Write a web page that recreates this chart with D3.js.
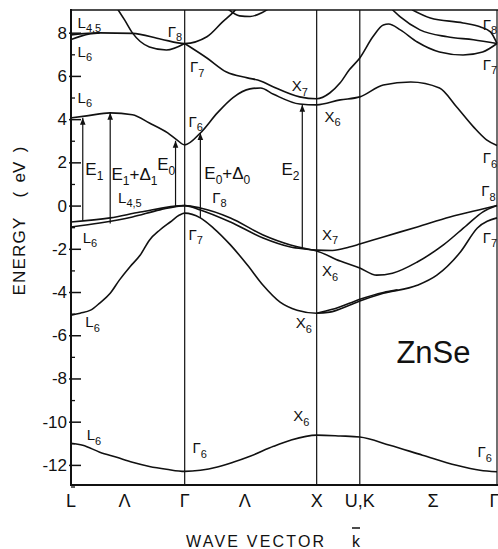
<!DOCTYPE html>
<html>
<head>
<meta charset="utf-8">
<script src="https://cdn.jsdelivr.net/npm/d3@7"></script>
<style>
  body { margin: 0; background: #fff; }
  text { font-family: "Liberation Sans", Arial, sans-serif; fill: #111; }
</style>
</head>
<body>
<svg id="chart" width="498" height="549"></svg>
<script>
// symmetry points along the k path (L - Γ - X - U,K - Γ)
var symK = [0, 0.87, 1.88, 2.21, 3.26];
var pathNames = ["L", "Λ", "Γ", "Λ", "X", "U,K", "Σ", "Γ"];
var pathNameK = [0, 0.41, 0.87, 1.33, 1.88, 2.21, 2.77, 3.24];

var majorTicks = [-12, -10, -8, -6, -4, -2, 0, 2, 4, 6, 8];
var minorTicks = [-13, -11, -9, -7, -5, -3, -1, 1, 3, 5, 7];

// bands, [k, energy eV]
var bandS = [[0,-11.0],[0.09,-11.09],[0.22,-11.41],[0.35,-11.65],[0.47,-11.88],[0.6,-12.07],[0.73,-12.2],[0.87,-12.3],
  [0.99,-12.25],[1.12,-12.1],[1.24,-11.88],[1.37,-11.6],[1.55,-11.14],[1.68,-10.86],[1.88,-10.62],[2.06,-10.66],[2.21,-10.71],
  [2.44,-11.09],[2.69,-11.55],[2.95,-12.02],[3.13,-12.25],[3.26,-12.32]];
var bandSO = [[0,-5.07],[0.07,-4.98],[0.15,-4.84],[0.22,-4.51],[0.3,-4.06],[0.37,-3.45],[0.45,-2.84],[0.53,-2.29],[0.6,-1.6],
  [0.68,-1.13],[0.76,-0.76],[0.83,-0.44],[0.87,-0.35],[0.99,-0.57],[1.09,-1.04],[1.22,-1.82],[1.35,-2.75],[1.47,-3.69],
  [1.6,-4.47],[1.73,-4.84],[1.88,-4.98],[1.98,-4.93],[2.13,-4.61],[2.21,-4.42],[2.39,-4.06],[2.65,-3.69],[2.8,-3.22],
  [2.98,-2.15],[3.11,-1.04],[3.26,-0.57]];
var bandSOb = [[1.88,-4.98],[2.0,-4.8],[2.13,-4.52],[2.21,-4.34],[2.39,-4.02],[2.5,-3.9]];
var bandLH = [[0,-0.99],[0.22,-0.81],[0.47,-0.53],[0.68,-0.2],[0.87,0],[0.99,-0.2],[1.22,-0.76],[1.47,-1.5],[1.68,-1.92],
  [1.88,-2.1],[2.06,-2.57],[2.21,-2.89],[2.34,-3.22],[2.46,-3.13],[2.65,-2.61],[2.85,-1.82],[3.03,-0.9],[3.15,-0.3],[3.26,0]];
var bandHH = [[0,-0.76],[0.3,-0.57],[0.53,-0.3],[0.87,0],[0.99,-0.11],[1.22,-0.57],[1.47,-1.36],[1.68,-1.82],[1.88,-2.06],
  [2.0,-2.08],[2.13,-1.92],[2.21,-1.78],[2.39,-1.45],[2.65,-0.99],[2.9,-0.53],[3.15,-0.16],[3.26,0]];
var bandC1 = [[0,4.06],[0.12,4.15],[0.3,4.29],[0.47,4.2],[0.6,3.82],[0.74,3.36],[0.81,3.04],[0.87,2.81],[0.99,3.36],
  [1.12,4.29],[1.24,5.0],[1.37,5.4],[1.45,5.44],[1.55,5.15],[1.75,4.7],[1.88,4.66],[2.06,4.89],[2.21,5.03],[2.39,5.58],
  [2.6,5.72],[2.82,5.44],[2.95,4.57],[3.08,3.64],[3.18,3.04],[3.26,2.78]];
var bandC2 = [[0.87,7.5],[1.04,6.83],[1.19,6.18],[1.35,5.91],[1.45,5.77],[1.55,5.49],[1.75,5.03],[1.88,4.94],[1.98,5.21],
  [2.06,5.68],[2.13,6.28],[2.21,6.83],[2.31,7.81],[2.39,8.36],[2.43,8.4],[2.52,8.13],[2.65,7.57],[2.82,7.11],[3.0,6.97],
  [3.15,7.11],[3.26,7.5]];
var bandC3 = [[0,7.9],[0.22,7.99],[0.47,7.97],[0.69,7.7],[0.87,7.5],[1.04,7.81],[1.16,8.5],[1.25,9.0],[1.32,9.5]];
var bandC3b = [[0,7.68],[0.07,7.83],[0.15,7.95],[0.22,7.99]];
var bandC4 = [[0.36,9.06],[0.41,8.59],[0.47,7.99],[0.6,7.34],[0.73,7.2],[0.87,7.5]];
var bandC5 = [[1.2,9.1],[1.29,8.78],[1.37,8.75],[1.46,8.92],[1.51,9.1]];
var bandC6 = [[2.46,9.06],[2.52,8.73],[2.67,8.13],[2.88,7.81],[3.08,7.67],[3.26,7.5]];
var bandC7 = [[2.61,9.06],[2.75,8.68],[3.0,8.45],[3.13,8.27],[3.21,8.04],[3.26,7.5]];
var bands = [bandS, bandSO, bandSOb, bandLH, bandHH, bandC1, bandC2, bandC3, bandC3b, bandC4, bandC5, bandC6, bandC7];

// optical transitions
var transNames = ["E_1", "E_1+Δ_1", "E_0", "E_0+Δ_0", "E_2"];
var transK = [0.09, 0.30, 0.80, 0.99, 1.77];
var transFrom = [-0.69, -0.83, -0.04, -0.57, -1.96];
var transTo = [4.06, 4.29, 3.0, 3.36, 4.66];
var transLabelK = [0.11, 0.31, 0.66, 1.02, 1.61];
var transLabelE = [1.42, 1.19, 1.65, 1.24, 1.42];

// band labels [text, k, E]
var bandLabels = [
  ["L_{4,5}",0.05,8.22], ["L_6",0.05,6.88], ["L_6",0.05,4.75],
  ["Γ_8",0.74,7.81], ["Γ_7",0.91,6.18], ["Γ_6",0.9,3.64],
  ["X_7",1.69,5.3], ["X_6",1.94,3.87],
  ["Γ_8",3.15,8.13], ["Γ_7",3.15,6.28], ["Γ_6",3.15,1.97],
  ["L_{4,5}",0.36,0.12], ["Γ_8",1.08,0.14], ["Γ_8",3.14,0.44],
  ["L_6",0.09,-1.73], ["Γ_7",0.9,-1.59], ["X_7",1.92,-1.59], ["Γ_7",3.15,-1.73],
  ["X_6",1.92,-3.26], ["L_6",0.11,-5.63], ["X_6",1.72,-5.67],
  ["X_6",1.7,-9.97], ["L_6",0.12,-10.85], ["Γ_6",0.93,-11.46], ["Γ_6",3.11,-11.64]
];

var svg = d3.select("#chart");
var pL = 71, pR = 497, pT = 10, pB = 485;

var x = d3.scaleLinear().domain([0, 3.26]).range([pL, pR]);
var y = d3.scaleLinear().domain([-12.93, 9.05]).range([pB, pT]);

var defs = svg.append("defs");
defs.append("clipPath").attr("id", "plot")
  .append("rect").attr("x", pL).attr("y", pT).attr("width", pR - pL + 2).attr("height", pB - pT);
defs.append("marker").attr("id", "head")
  .attr("viewBox", "0 0 10 10").attr("refX", 10).attr("refY", 5)
  .attr("markerWidth", 7).attr("markerHeight", 7).attr("markerUnits", "userSpaceOnUse")
  .attr("orient", "auto")
  .append("path").attr("d", "M0,1 L10,5 L0,9 Z").attr("fill", "#111");

// writes text with _x or _{xx} subscripts
function rich(t, str, fs, sfs) {
  var re = /_(\{([^}]*)\}|(.))/g, last = 0, m, parts = [];
  while ((m = re.exec(str))) {
    if (m.index > last) parts.push([str.slice(last, m.index), false]);
    parts.push([m[2] || m[3], true]);
    last = re.lastIndex;
  }
  if (last < str.length) parts.push([str.slice(last), false]);
  var inSub = false;
  parts.forEach(function(p) {
    var dy = 0;
    if (p[1] && !inSub) dy = fs * 0.3;
    if (!p[1] && inSub) dy = -fs * 0.3;
    inSub = p[1];
    t.append("tspan").attr("dy", dy).attr("font-size", p[1] ? sfs : fs).text(p[0]);
  });
}

// vertical symmetry lines
svg.selectAll(".sym").data(symK.slice(1)).enter().append("line")
  .attr("x1", function(d) { return x(d); }).attr("x2", function(d) { return x(d); })
  .attr("y1", pT).attr("y2", pB)
  .attr("stroke", "#111").attr("stroke-width", 1.2);

// frame
svg.append("line").attr("x1", pL).attr("x2", pL).attr("y1", pT - 1).attr("y2", pB + 1)
  .attr("stroke", "#111").attr("stroke-width", 2);
svg.append("line").attr("x1", pL).attr("x2", 498).attr("y1", pB).attr("y2", pB)
  .attr("stroke", "#111").attr("stroke-width", 2.2);
svg.append("line").attr("x1", pL).attr("x2", 498).attr("y1", pT).attr("y2", pT)
  .attr("stroke", "#111").attr("stroke-width", 1.6);

// y axis ticks
var yAxis = d3.axisLeft(y).tickValues(majorTicks).tickSize(-8).tickSizeOuter(0).tickPadding(6)
  .tickFormat(function(d) { return String(d); });
var ga = svg.append("g").attr("transform", "translate(" + (pL + 2) + ",0)").call(yAxis);
ga.select(".domain").remove();
ga.selectAll("line").attr("stroke", "#111").attr("stroke-width", 1.5).attr("x1", -4);
ga.selectAll("text").attr("font-size", 17).attr("font-family", "Liberation Sans, Arial, sans-serif").attr("fill", "#111");

var gm = svg.append("g").attr("transform", "translate(" + pL + ",0)")
  .call(d3.axisLeft(y).tickValues(minorTicks).tickSize(-4).tickFormat(""));
gm.select(".domain").remove();
gm.selectAll("line").attr("stroke", "#111").attr("stroke-width", 1.3);

// bands
var line = d3.line().x(function(d) { return x(d[0]); }).y(function(d) { return y(d[1]); }).curve(d3.curveMonotoneX);
svg.append("g").attr("clip-path", "url(#plot)")
  .selectAll("path").data(bands).enter().append("path")
  .attr("d", line).attr("fill", "none").attr("stroke", "#111").attr("stroke-width", 1.6);

// transitions
transK.forEach(function(k, i) {
  svg.append("line")
    .attr("x1", x(k)).attr("x2", x(k))
    .attr("y1", y(transFrom[i])).attr("y2", y(transTo[i]))
    .attr("stroke", "#111").attr("stroke-width", 1.2)
    .attr("marker-end", "url(#head)");
  var t = svg.append("text").attr("x", x(transLabelK[i])).attr("y", y(transLabelE[i]));
  rich(t, transNames[i], 17, 12);
});

// band labels
bandLabels.forEach(function(b) {
  var t = svg.append("text").attr("x", x(b[1])).attr("y", y(b[2]));
  rich(t, b[0], 15, 11);
});

// path labels
svg.selectAll(".pn").data(pathNames).enter().append("text")
  .attr("x", function(d, i) { return x(pathNameK[i]); })
  .attr("y", 507)
  .attr("text-anchor", "middle").attr("font-size", 18)
  .text(function(d) { return d; });

// axis titles
svg.append("text").attr("x", 186).attr("y", 547).attr("font-size", 16).attr("letter-spacing", 2.2)
  .text("WAVE VECTOR");
svg.append("text").attr("x", 352).attr("y", 547).attr("font-size", 16).text("k");
svg.append("line").attr("x1", 352).attr("x2", 360).attr("y1", 528).attr("y2", 528)
  .attr("stroke", "#111").attr("stroke-width", 1.5);

svg.append("text").attr("transform", "translate(25,256) rotate(-90)")
  .attr("text-anchor", "middle").attr("font-size", 17).attr("letter-spacing", 1.2)
  .text("ENERGY");
svg.append("text").attr("transform", "translate(25,172) rotate(-90)")
  .attr("text-anchor", "middle").attr("font-size", 17).style("white-space", "pre")
  .text("(  eV  )");

svg.append("text").attr("x", x(2.49)).attr("y", y(-7.29)).attr("font-size", 31).text("ZnSe");
</script>
</body>
</html>
